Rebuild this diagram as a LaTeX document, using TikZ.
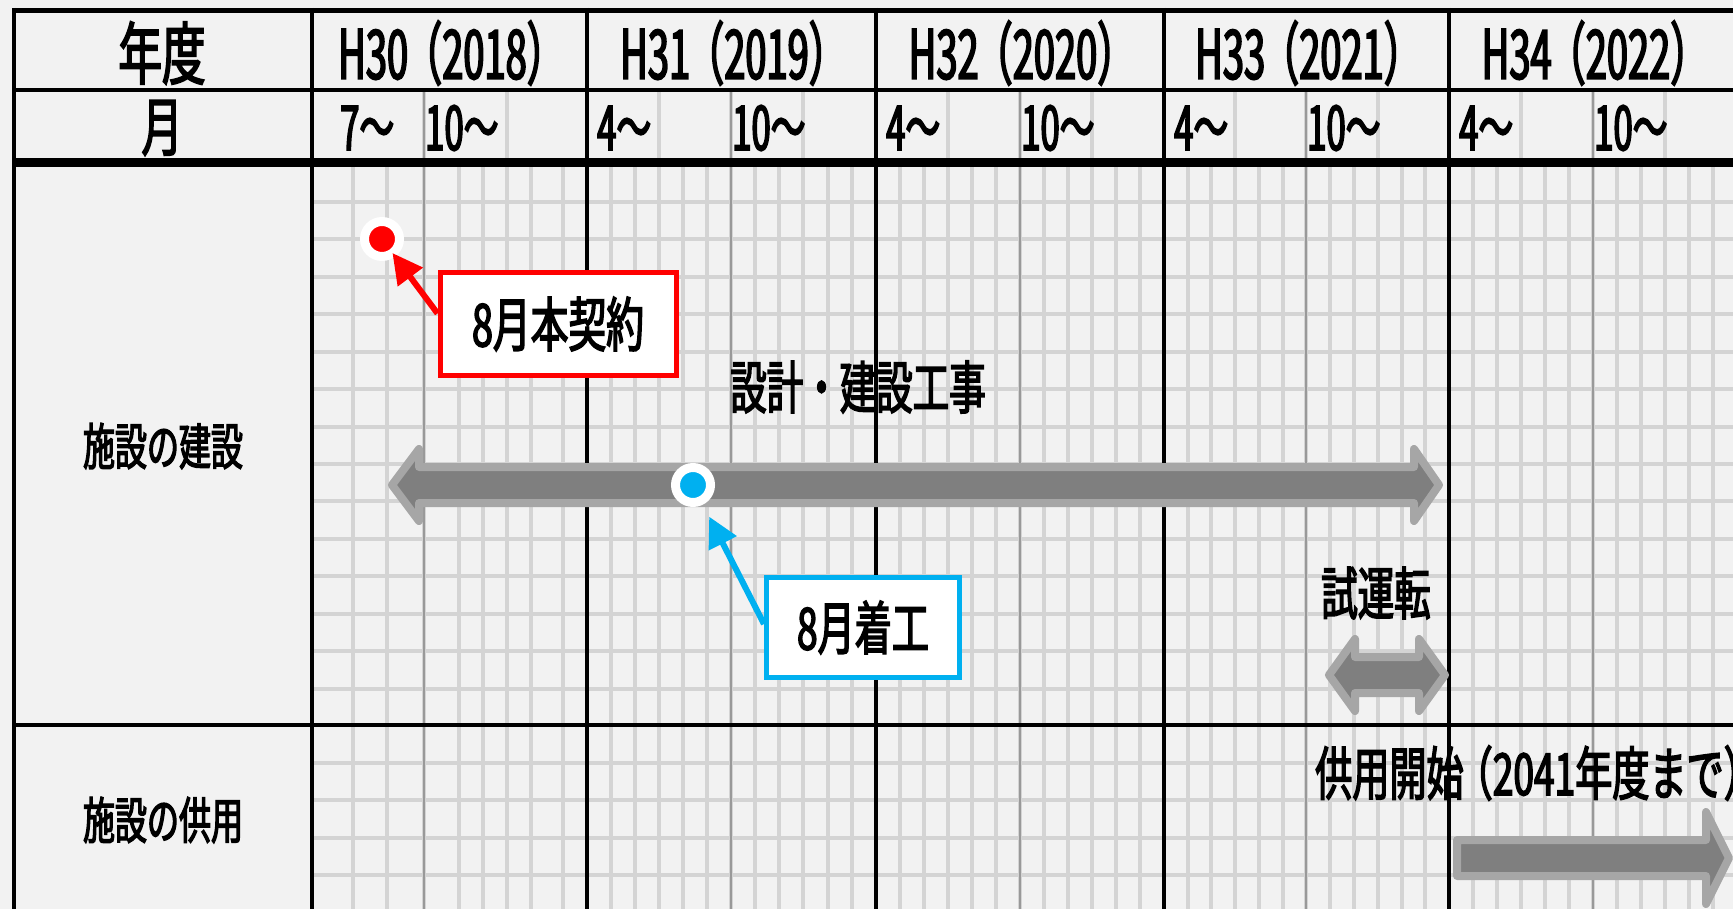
\documentclass[tikz,border=0pt]{standalone}
\usepackage{fontspec}
\setmainfont{Noto Sans CJK JP}[FakeStretch=0.64,FakeBold=2.5]
\newfontfamily\hdfont{Noto Sans CJK JP}[FakeStretch=0.56,FakeBold=2.5]
\usetikzlibrary{arrows.meta}
\definecolor{bgc}{HTML}{F2F2F2}
\definecolor{gridc}{HTML}{D4D4D4}
\definecolor{monc}{HTML}{999999}
\definecolor{barc}{HTML}{7F7F7F}
\definecolor{barrim}{HTML}{A6A6A6}
\definecolor{xlblue}{HTML}{00B0F0}
\newcommand{\fs}[1]{\fontsize{#1}{#1}\selectfont}
\begin{document}
\begin{tikzpicture}[x=1pt,y=-1pt,
	yr/.style={font=\hdfont\fs{68},inner sep=0pt},
	mo/.style={font=\hdfont\fs{62},inner sep=0pt,anchor=west},
	lbl/.style={font=\fs{50},inner sep=0pt},
	call/.style={draw=#1,line width=5pt,fill=white,inner sep=0pt},
	pin/.style={circle,fill=#1,draw=white,line width=9pt,minimum size=35pt,inner sep=0pt,outer sep=0pt},
	band/.style={fill=barc,draw=barrim,line width=8pt,line join=round},
	grid/.style={gridc,line width=4pt}]
	\fill[bgc] (0,0) rectangle (1733,909);
	\useasboundingbox (0,0) rectangle (1733,909);
	\foreach \y in {202,239.43,...,690} \draw[grid] (312,\y) -- (1733,\y);
	\foreach \y in {762.5,800,...,909} \draw[grid] (312,\y) -- (1733,\y);
	\foreach \x in {353,387,459,483,507,531,563,611,635,659,683,707,755,779,803,828,852,900,924,948,972,996,1044,1068,1092,1116,1140,1188,1211,1235,1259,1283,1330,1354,1378,1402,1425,1473,1497,1521,1545,1569,1617,1641,1665,1689,1713}
		\draw[grid] (\x,162) -- (\x,909);
	\foreach \x in {507,659,803,948,1092,1235,1378,1521,1665}
		\draw[grid] (\x,90) -- (\x,162);
	\foreach \x in {424,731,1020,1306,1593} {
		\draw[grid] (\x,90) -- (\x,909);
		\draw[monc,line width=2pt] (\x,90) -- (\x,909);
	}
	\draw[line width=5pt] (12,10.5) -- (1733,10.5);
	\draw[line width=4.5pt] (14,90) -- (1733,90);
	\draw[line width=9pt] (12,162.5) -- (1733,162.5);
	\draw[line width=4.5pt] (12,725) -- (1733,725);
	\draw[line width=4pt] (14,8) -- (14,909);
	\draw[line width=4pt] (312,8) -- (312,909);
	\foreach \x in {587,876,1164,1449} \draw[line width=3.5pt] (\x,8) -- (\x,909);
	\node[font=\fs{68},inner sep=0pt] (nendo) at (162,53) {年度};
	\node[font=\fs{64},inner sep=0pt] (tsuki) at (162,128) {月};
	\foreach \cx/\h/\yy in {449.5/30/2018,731.5/31/2019,1020/32/2020,1306.5/33/2021,1593/34/2022}
		\node[yr] (fy\h) at (\cx,53) {H\h\kern-4pt（\yy）\kern-4pt};
	\node[mo] (m7) at (340,128) {7～};
	\foreach \x [count=\i] in {425,732,1021,1307,1594} \node[mo] (mten\i) at (\x,128) {10～};
	\foreach \x [count=\i] in {597,886,1174,1459} \node[mo] (mfour\i) at (\x,128) {4～};
	\node[lbl] (rowbuild) at (163,446) {施設の建設};
	\node[lbl] (rowuse) at (163,820) {施設の供用};
	\filldraw[band] (392,485) -- (419,449) -- (419,467) -- (1414,467) -- (1414,449) -- (1439,485) -- (1414,521) -- (1414,503) -- (419,503) -- (419,521) -- cycle;
	\filldraw[band] (1329,675) -- (1355,639) -- (1355,657) -- (1419,657) -- (1419,639) -- (1445,675) -- (1419,711) -- (1419,693) -- (1355,693) -- (1355,711) -- cycle;
	\filldraw[band] (1457,840) -- (1706,840) -- (1706,812) -- (1729,858) -- (1706,904) -- (1706,876) -- (1457,876) -- cycle;
	\node[font=\fs{57},inner sep=0pt] (works) at (858,387) {設計・建設工事};
	\node[font=\fs{57},inner sep=0pt] (trial) at (1376,593) {試運転};
	\node[font=\fs{58},inner sep=0pt,anchor=west] (inuse) at (1315,773) {供用開始\kern-8pt（2041年度まで）};
	\node[pin=red] (contractpt) at (382,239) {};
	\node[pin=xlblue] (startpt) at (693,485) {};
	\node[call=red,minimum width=236pt,minimum height=103pt,font=\fs{59}] (contract) at (558,324) {8月本契約};
	\node[call=xlblue,minimum width=193pt,minimum height=100pt,font=\fs{58}] (start) at (863,627.5) {8月着工};
	\draw[red,line width=6pt,-{Triangle[length=30pt,width=30pt]}] (contract.175) -- (contractpt);
	\draw[xlblue,line width=6pt,-{Triangle[length=30pt,width=30pt]},shorten >=18pt] (start.178) -- (startpt);
\end{tikzpicture}
\end{document}
